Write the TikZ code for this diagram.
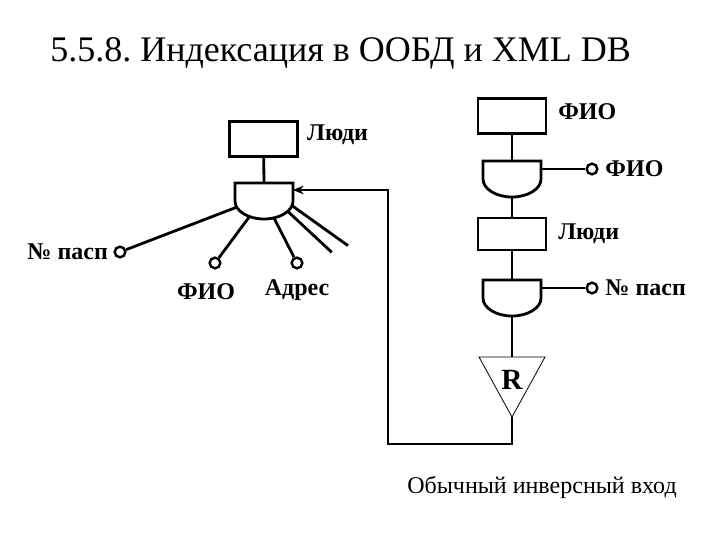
\documentclass[tikz,border=0pt]{standalone}
\usepackage{fontspec}
\setmainfont{Liberation Serif}
\usepackage{tikz}
\usetikzlibrary{positioning, arrows.meta, calc}
\frenchspacing

% half-disc gate: name, top centre
\newcommand{\halfgate}[2]{%
  \draw[line] ($(#2)+(-29,0)$) coordinate (#1-w) -- ($(#2)+(29,0)$) coordinate (#1-e)
    -- ++(0,-18) arc[start angle=0, end angle=-180, x radius=29, y radius=18] -- cycle;
  \coordinate (#1-c) at ($(#2)+(0,-18)$);
  \coordinate (#1-s) at ($(#2)+(0,-36)$);
}

\begin{document}
\begin{tikzpicture}[x=0.75pt, y=0.75pt,
    line/.style={line width=2.1pt},
    box/.style={draw, line width=2.1pt, rectangle, minimum width=51pt, minimum height=26pt, inner sep=0pt},
    port/.style={draw, circle, line width=1.8pt, minimum size=8pt, inner sep=0pt},
    lbl/.style={font=\fontsize{18}{20}\selectfont\bfseries, inner sep=1pt}
  ]
  \useasboundingbox (0,0) rectangle (720,540);

  \node[anchor=base west, inner sep=0pt, font=\fontsize{27}{32}\selectfont] (title) at (50,478)
    {5.5.8. Индексация в ООБД и XML DB};

  % left: object with attributes
  \node[box] (peopleL) at (263.5,401) {};
  \node[lbl, right=5pt of peopleL, yshift=3pt] (peopleLlbl) {Люди};
  \coordinate (gLtop) at (264,357);
  \halfgate{gL}{gLtop}
  \draw[line] (peopleL) -- (gLtop);

  \node[port] (paspL) at (120,288) {};
  \node[port] (fioL) at (215,277) {};
  \node[port] (addrL) at (297,277) {};
  \node[lbl, left=3pt of paspL] (paspLlbl) {№ пасп};
  \node[lbl] (fioLlbl) at (206,248) {ФИО};
  \node[lbl] (addrLlbl) at (297,250) {Адрес};

  \draw[line] ($(gL-c)+(-160:29 and 18)$) -- (paspL);
  \draw[line] ($(gL-c)+(-120:29 and 18)$) -- (fioL);
  \draw[line] ($(gL-c)+(-70:29 and 18)$) -- (addrL);
  \draw[line] ($(gL-c)+(-35:29 and 18)$) -- ++(44,-41);
  \draw[line] ($(gL-c)+(-15:29 and 18)$) -- ++(56,-40);

  % right: inverse index chain
  \node[box] (fioR) at (512,424) {};
  \node[lbl, right=7pt of fioR, yshift=3pt] (fioRlbl) {ФИО};
  \coordinate (gR1top) at (512,379);
  \halfgate{gR1}{gR1top}
  \draw[line] (fioR) -- (gR1top);
  \node[port] (fioRport) at (592,371) {};
  \node[lbl, right=4pt of fioRport] (fioRportlbl) {ФИО};
  \draw[line] ($(gR1-e)+(0,-8)$) -- (fioRport);

  \node[box, minimum height=24pt] (peopleR) at (512,306) {};
  \node[lbl, right=7pt of peopleR] (peopleRlbl) {Люди};
  \draw[line] (gR1-s) -- (peopleR);
  \coordinate (gR2top) at (512,260);
  \halfgate{gR2}{gR2top}
  \draw[line] (peopleR) -- (gR2top);
  \node[port] (paspR) at (592,252) {};
  \node[lbl, right=4pt of paspR] (paspRlbl) {№ пасп};
  \draw[line] ($(gR2-e)+(0,-8)$) -- (paspR);

  % R triangle
  \coordinate (triL) at (479,183);
  \coordinate (triR) at (545,183);
  \coordinate (triApex) at (512,123);
  \draw[line width=0.6pt] (triL) -- (triR) -- (triApex) -- cycle;
  \node[lbl, font=\fontsize{22}{24}\selectfont\bfseries] (rlbl) at (512,160) {R};
  \draw[line] (gR2-s) -- (512,183);

  % feedback to left gate
  \draw[line, -{Stealth[length=8pt, width=6.5pt]}] (triApex) -- ++(0,-27) -| (388,350)
    -- ($(gL-e)+(0,-7)$);

  \node[font=\fontsize{18}{20}\selectfont] (caption) at (542,53) {Обычный инверсный вход};
\end{tikzpicture}
\end{document}
